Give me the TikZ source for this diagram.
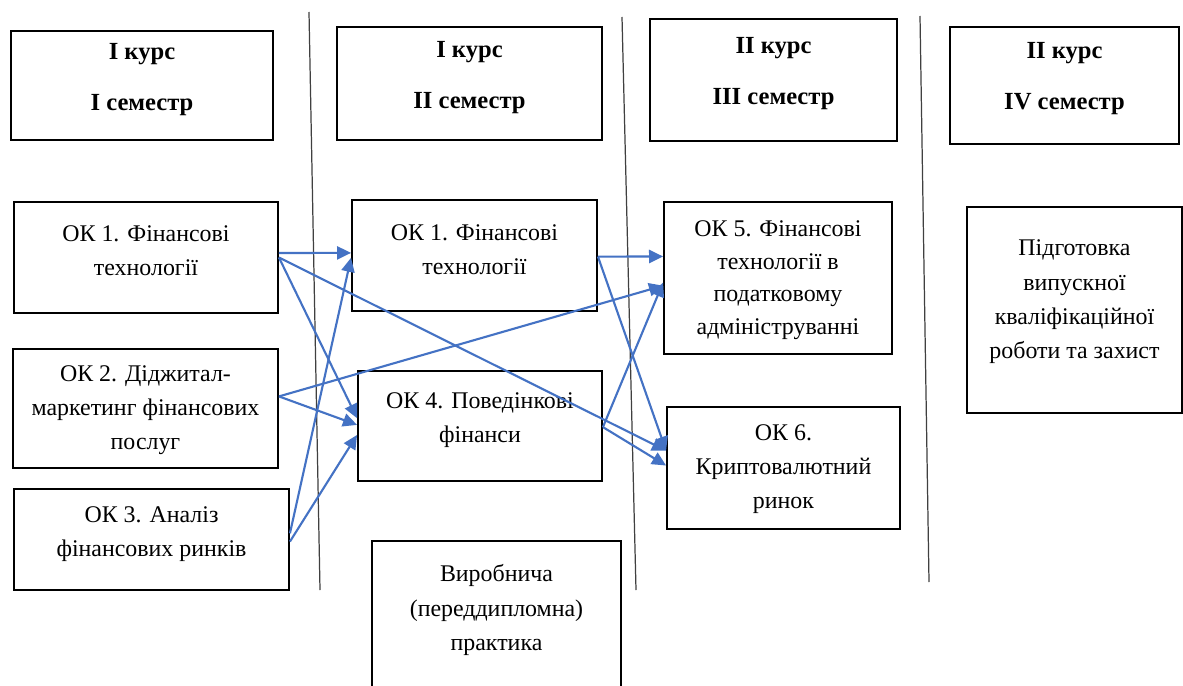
\documentclass[tikz,border=0pt]{standalone}
\usepackage{fontspec}
\setmainfont{Liberation Serif}
\usetikzlibrary{arrows.meta,calc}
\definecolor{arrowblue}{HTML}{4472C4}
\tikzset{
  box/.style={draw=black, line width=1.1pt, rectangle, inner sep=0pt},
  txt/.style={align=center, inner sep=0pt, font=\fontsize{13.6}{19.5}\selectfont},
  head/.style={align=center, inner sep=0pt, font=\fontsize{14}{29}\selectfont\bfseries},
  divider/.style={draw=black!75, line width=0.7pt},
  link/.style={draw=arrowblue, line width=1.2pt, -{Triangle[length=8pt,width=7.5pt]}}
}
\begin{document}
\begin{tikzpicture}[x=0.02cm,y=-0.02cm]
\useasboundingbox (0,0) rectangle (1183,686);
\clip (0,0) rectangle (1183,686);
\fill[white] (0,0) rectangle (1183,686);

% dividers
\draw[divider] (309,12) -- (320,590);
\draw[divider] (622,17) -- (636,590);
\draw[divider] (920,16) -- (929,582);

% headers
\node[box, minimum width=5.24cm, minimum height=2.18cm] (h1) at (142,85.5) {};
\node[head] (h1t) at (142,80) {I курс\\I семестр};
\node[box, minimum width=5.30cm, minimum height=2.26cm] (h2) at (469.5,83.5) {};
\node[head] (h2t) at (469.5,78) {I курс\\II семестр};
\node[box, minimum width=4.94cm, minimum height=2.44cm] (h3) at (773.5,80) {};
\node[head] (h3t) at (773.5,74) {II курс\\III семестр};
\node[box, minimum width=4.58cm, minimum height=2.34cm] (h4) at (1064.5,85.5) {};
\node[head] (h4t) at (1064.5,79) {II курс\\IV семестр};

% course boxes
\node[box, minimum width=5.28cm, minimum height=2.22cm] (ok1L) at (146,257.5) {};
\node[txt] (ok1Lt) at (146,251) {ОК 1. Фінансові\\технології};
\node[box, minimum width=5.30cm, minimum height=2.38cm] (ok2) at (145.5,408.5) {};
\node[txt] (ok2t) at (145.5,410) {ОК 2. Діджитал-\\маркетинг фінансових\\послуг};
\node[box, minimum width=5.50cm, minimum height=2.02cm] (ok3) at (151.5,539.5) {};
\node[txt] (ok3t) at (151.5,534) {ОК 3. Аналіз\\фінансових ринків};

\node[box, minimum width=4.90cm, minimum height=2.22cm] (ok1M) at (474.5,255.5) {};
\node[txt] (ok1Mt) at (474.5,250) {ОК 1. Фінансові\\технології};
\node[box, minimum width=4.88cm, minimum height=2.20cm] (ok4) at (480,426) {};
\node[txt] (ok4t) at (480,420) {ОК 4. Поведінкові\\фінанси};
\node[box, minimum width=4.98cm, minimum height=3.16cm] (pract) at (496.5,620) {};
\node[txt] (practt) at (496.5,610) {Виробнича\\(переддипломна)\\практика};

\node[box, minimum width=4.56cm, minimum height=3.04cm] (ok5) at (778,278) {};
\node[txt, font=\fontsize{13.6}{18.5}\selectfont] (ok5t) at (778,280) {ОК 5. Фінансові\\технології в\\податковому\\адмініструванні};
\node[box, minimum width=4.66cm, minimum height=2.44cm] (ok6) at (783.5,468) {};
\node[txt] (ok6t) at (783.5,469) {ОК 6.\\Криптовалютний\\ринок};

\node[box, minimum width=4.30cm, minimum height=4.12cm] (prep) at (1074.5,310) {};
\node[txt] (prept) at (1074.5,302) {Підготовка\\випускної\\кваліфікаційної\\роботи та захист};

% connectors
\draw[link] ($(ok1L.north east)!0.46!(ok1L.south east)$) -- ($(ok1M.north west)!0.477!(ok1M.south west)$);
\draw[link] ($(ok1L.north east)!0.50!(ok1L.south east)$) -- ($(ok4.north west)!0.43!(ok4.south west)$);
\draw[link] ($(ok1L.north east)!0.50!(ok1L.south east)$) -- ($(ok6.north west)!0.36!(ok6.south west)$);
\draw[link] ($(ok2.north east)!0.40!(ok2.south east)$) -- ($(ok5.north west)!0.55!(ok5.south west)$);
\draw[link] ($(ok2.north east)!0.40!(ok2.south east)$) -- ($(ok4.north west)!0.49!(ok4.south west)$);
\draw[link] ($(ok3.north east)!0.44!(ok3.south east)$) -- ($(ok1M.north west)!0.52!(ok1M.south west)$);
\draw[link] ($(ok3.north east)!0.52!(ok3.south east)$) -- ($(ok4.north west)!0.58!(ok4.south west)$);
\draw[link] ($(ok1M.north east)!0.51!(ok1M.south east)$) -- ($(ok5.north west)!0.36!(ok5.south west)$);
\draw[link] ($(ok1M.north east)!0.51!(ok1M.south east)$) -- ($(ok6.north west)!0.36!(ok6.south west)$);
\draw[link] ($(ok4.north east)!0.51!(ok4.south east)$) -- ($(ok5.north west)!0.53!(ok5.south west)$);
\draw[link] ($(ok4.north east)!0.51!(ok4.south east)$) -- ($(ok6.north west)!0.48!(ok6.south west)$);
\end{tikzpicture}
\end{document}
